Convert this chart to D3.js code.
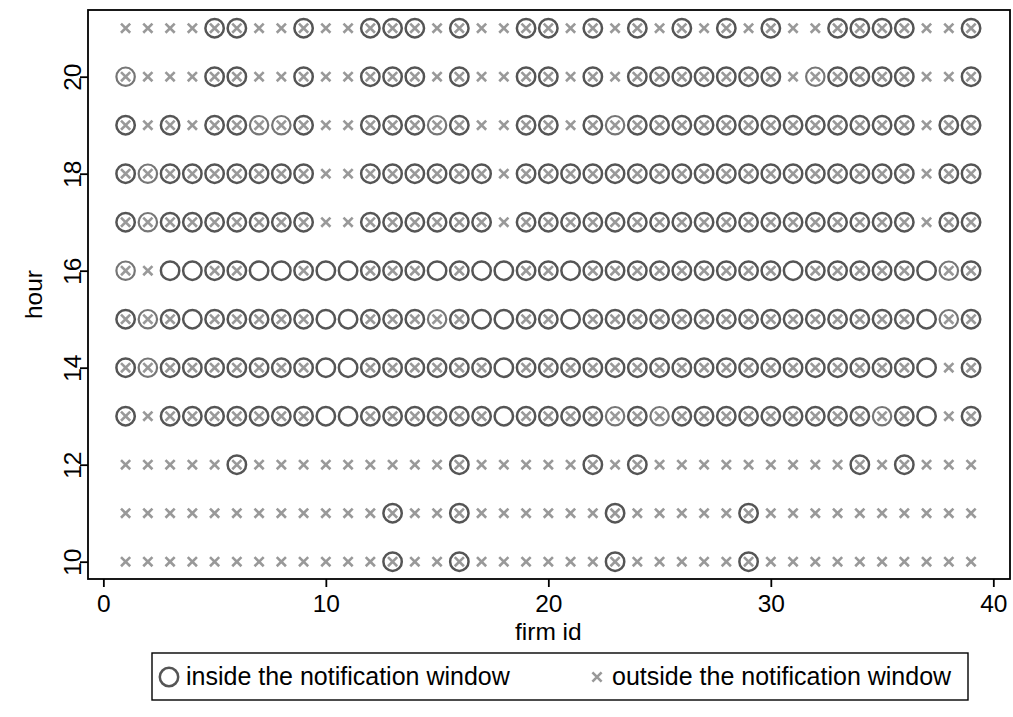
<!DOCTYPE html>
<html>
<head>
<meta charset="utf-8">
<script src="https://cdn.jsdelivr.net/npm/d3@7"></script>
<style>
  html, body { margin: 0; padding: 0; background: #fff; }
  svg { display: block; }
  text { font-family: "Liberation Sans", Arial, Helvetica, sans-serif; fill: #000; }
</style>
</head>
<body>
<svg id="chart" width="1013" height="717"></svg>
<script>
// Firms on the x axis, hours of the day on the y axis.
const firms = [1, 2, 3, 4, 5, 6, 7, 8, 9, 10, 11, 12, 13, 14, 15, 16, 17, 18, 19, 20,
               21, 22, 23, 24, 25, 26, 27, 28, 29, 30, 31, 32, 33, 34, 35, 36, 37, 38, 39];
const hours = [21, 20, 19, 18, 17, 16, 15, 14, 13, 12, 11, 10];

// One string per hour (same order as `hours`), one character per firm:
//   x = only outside the notification window
//   o = only inside the notification window
//   b = inside and outside, several inside observations
//   l = inside and outside, a single inside observation (fainter ring)
const cellCodes = [
  "xxxxbbxxbxxbbbxbxxbb" + "xbxbxbxbxbxxbbbbxxb",   // 21
  "lxxxbbxxbxxbbbxbxxbb" + "xbxbbbbbbbxlbbbbxxb",   // 20
  "bxbxbbllbxxbbblbxxbb" + "xblbbbbbbbbbbbbbxbb",   // 19
  "blbbbbbbbxxbbbbbbxbb" + "bbbbbbbbbbbbbbbbxbb",   // 18
  "blbbbbbbbxxbbbbbbxbb" + "bbbbbbbbbbbbbbbbxbb",   // 17
  "lxoobboobo" + "obbboboobb" + "obbbbbbbbbobbbbbolb",  // 16
  "blbobbbbbo" + "obbblboobb" + "obbbbbbbbbbbbbbbolb",  // 15
  "blbbbbbbbo" + "obbbbbbobb" + "bbbbbbbbbbbbbbbboxb",  // 14
  "bxbbbbbbbo" + "obbbbbbobb" + "bblblbbbbbbbbblboxb",  // 13
  "xxxxxbxxxx" + "xxxxxbxxxx" + "xbxbxxxxxxxxxbxbxxx",  // 12
  "xxxxxxxxxx" + "xxbxxbxxxx" + "xxbxxxxxbxxxxxxxxxx",  // 11
  "xxxxxxxxxx" + "xxbxxbxxxx" + "xxbxxxxxbxxxxxxxxxx"   // 10
];

const xTicks = [0, 10, 20, 30, 40];
const yTicks = [10, 12, 14, 16, 18, 20];
const legendLabels = ["inside the notification window", "outside the notification window"];

// Build the observation lists from the codes.
const inside = [];
const outside = [];
hours.forEach((h, i) => {
  firms.forEach((f, j) => {
    const c = cellCodes[i][j];
    if (c === "o" || c === "b" || c === "l") inside.push({ firm: f, hour: h, single: c === "l" });
    if (c === "x" || c === "b" || c === "l") outside.push({ firm: f, hour: h });
  });
});

const svg = d3.select("#chart");
const plot = { left: 88, right: 1010, top: 10, bottom: 579 };
const axisFont = 24.5;
const legendFont = 25;

const x = d3.scaleLinear().domain([-0.69, 40.75]).range([plot.left, plot.right]);
const y = d3.scaleLinear().domain([9.643, 21.375]).range([plot.bottom, plot.top]);

const ringColor = "#555555";
const faintRingColor = "#767676";
const crossColor = "#999999";
const ringR = 9.2;
const crossH = 4.6;

function crossPath(cx, cy) {
  return `M${cx - crossH},${cy - crossH}L${cx + crossH},${cy + crossH}` +
         `M${cx - crossH},${cy + crossH}L${cx + crossH},${cy - crossH}`;
}

// Hollow circles: inside the window
svg.append("g")
  .selectAll("circle")
  .data(inside)
  .join("circle")
  .attr("cx", d => x(d.firm))
  .attr("cy", d => y(d.hour))
  .attr("r", ringR)
  .attr("fill", "none")
  .attr("stroke", d => d.single ? faintRingColor : ringColor)
  .attr("stroke-width", d => d.single ? 2.2 : 2.5);

// Crosses: outside the window
svg.append("g")
  .selectAll("path")
  .data(outside)
  .join("path")
  .attr("d", d => crossPath(x(d.firm), y(d.hour)))
  .attr("fill", "none")
  .attr("stroke", crossColor)
  .attr("stroke-width", 2.6);

// Plot frame
svg.append("rect")
  .attr("x", plot.left).attr("y", plot.top)
  .attr("width", plot.right - plot.left)
  .attr("height", plot.bottom - plot.top)
  .attr("fill", "none")
  .attr("stroke", "#000")
  .attr("stroke-width", 1.8);

// X axis
const xAxis = svg.append("g")
  .attr("transform", `translate(0,${plot.bottom})`)
  .call(d3.axisBottom(x).tickValues(xTicks).tickSize(8).tickPadding(8).tickFormat(d3.format("d")));
xAxis.select(".domain").remove();
xAxis.selectAll("line").attr("stroke", "#000").attr("stroke-width", 1.8);
xAxis.selectAll("text").attr("font-size", axisFont).attr("fill", "#000")
  .attr("font-family", "Liberation Sans, Arial, sans-serif");

// Y axis with labels rotated to read upwards
const yAxis = svg.append("g")
  .attr("transform", `translate(${plot.left},0)`)
  .call(d3.axisLeft(y).tickValues(yTicks).tickSize(8).tickFormat(d3.format("d")));
yAxis.select(".domain").remove();
yAxis.selectAll("line").attr("stroke", "#000").attr("stroke-width", 1.8);
yAxis.selectAll("text")
  .attr("font-size", axisFont).attr("fill", "#000")
  .attr("font-family", "Liberation Sans, Arial, sans-serif")
  .attr("text-anchor", "middle")
  .attr("transform", "rotate(-90)")
  .attr("x", 0).attr("y", -7).attr("dy", 0);

// Axis titles
svg.append("text")
  .attr("x", (x(0) + x(40)) / 2)
  .attr("y", 640)
  .attr("text-anchor", "middle")
  .attr("font-size", axisFont)
  .text("firm id");

svg.append("text")
  .attr("transform", `translate(42,${(plot.top + plot.bottom) / 2}) rotate(-90)`)
  .attr("text-anchor", "middle")
  .attr("font-size", axisFont)
  .text("hour");

// Legend
const legend = svg.append("g");
legend.append("rect")
  .attr("x", 152).attr("y", 653).attr("width", 816).attr("height", 47)
  .attr("fill", "#fff").attr("stroke", "#000").attr("stroke-width", 1.4);

legend.append("circle")
  .attr("cx", 169).attr("cy", 677).attr("r", ringR)
  .attr("fill", "none").attr("stroke", ringColor).attr("stroke-width", 2.5);
legend.append("text")
  .attr("x", 186).attr("y", 685).attr("font-size", legendFont)
  .text(legendLabels[0]);

legend.append("path")
  .attr("d", crossPath(597, 677))
  .attr("fill", "none").attr("stroke", crossColor).attr("stroke-width", 2.6);
legend.append("text")
  .attr("x", 612).attr("y", 685).attr("font-size", legendFont)
  .text(legendLabels[1]);
</script>
</body>
</html>
